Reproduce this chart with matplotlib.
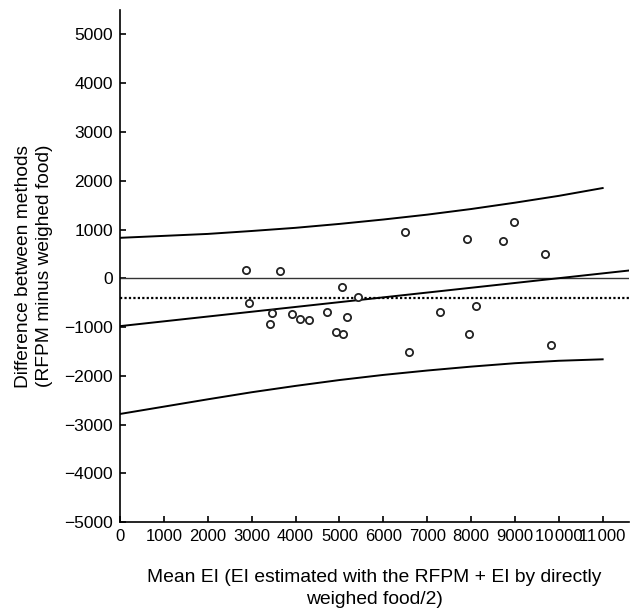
import matplotlib
matplotlib.use('Agg')
import matplotlib.pyplot as plt
from matplotlib.ticker import FuncFormatter

plt.rcParams['font.family'] = ['Liberation Sans', 'DejaVu Sans']

# scatter points (mean EI, difference)
mean_ei = [2870, 2950, 3650, 3470, 3410, 3920, 4110, 4300, 4720, 4920, 5085,
           5050, 5180, 5420, 6500, 6590, 7290, 7910, 7960, 8120, 8720, 8990,
           9680, 9830]
diff = [170, -510, 150, -715, -940, -730, -840, -860, -690, -1100, -1145,
        -170, -790, -390, 940, -1520, -690, 815, -1145, -570, 765, 1155,
        505, -1365]

# regression line of difference on mean
reg_x = [0, 11600]
reg_y = [-980, 160]

# limits of agreement read every 1000
loa_x = [0, 1000, 2000, 3000, 4000, 5000, 6000, 7000, 8000, 9000, 10000, 11000]
upper = [830, 870, 910, 970, 1035, 1115, 1205, 1305, 1420, 1550, 1690, 1850]
lower = [-2780, -2630, -2480, -2335, -2205, -2085, -1980, -1890, -1810,
         -1740, -1690, -1660]

mean_diff = -400

fig = plt.figure(figsize=(6.37, 6.08), dpi=100)
ax = fig.add_axes([0.1884, 0.141, 0.7990, 0.8426])

ax.axhline(0, color='#333333', lw=1.0)
ax.axhline(mean_diff, color='black', lw=1.6, linestyle=(0, (1, 1)))
ax.plot(reg_x, reg_y, color='black', lw=1.4)
ax.plot(loa_x, upper, color='black', lw=1.4)
ax.plot(loa_x, lower, color='black', lw=1.4)
ax.plot(mean_ei, diff, 'o', mfc='white', mec='#222222', ms=5.2, mew=1.3)

ax.set_xlim(0, 11600)
ax.set_ylim(-5000, 5500)
ax.set_xticks(range(0, 12000, 1000))
ax.set_yticks(range(-5000, 6000, 1000))


def fmt(v, pos):
    v = int(round(v))
    if abs(v) >= 10000:
        s = f"{abs(v):,}".replace(',', '\u200a')
    else:
        s = str(abs(v))
    return ('\u2212' if v < 0 else '') + s


ax.xaxis.set_major_formatter(FuncFormatter(fmt))
ax.yaxis.set_major_formatter(FuncFormatter(fmt))

for s in ['top', 'right']:
    ax.spines[s].set_visible(False)
for s in ['left', 'bottom']:
    ax.spines[s].set_linewidth(1.2)

ax.tick_params(direction='in', length=4.5, width=1.2, labelsize=12.5, pad=5)
ax.tick_params(axis='x', labelsize=12)

ax.set_xlabel('Mean EI (EI estimated with the RFPM + EI by directly\nweighed food/2)',
              fontsize=13.9, labelpad=18, linespacing=1.35)
ax.set_ylabel('Difference between methods\n(RFPM minus weighed food)',
              fontsize=13.8, labelpad=8, linespacing=1.3)

fig.savefig('out.png', dpi=100)
